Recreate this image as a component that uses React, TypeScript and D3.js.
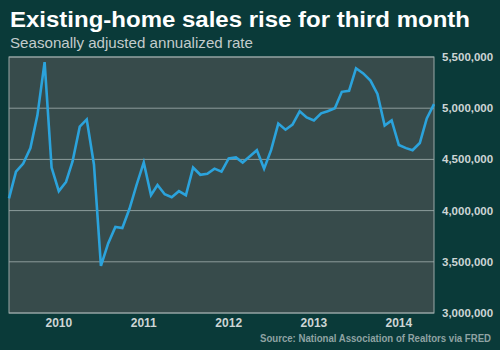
import React from 'react';
import * as d3 from 'd3';

// monthly existing-home sales, June 2009 - June 2014 (millions, SAAR)
const startMonth = new Date(2009, 5, 1);
const sales = [
  4.12, 4.38, 4.46, 4.61, 4.93, 5.45, 4.42, 4.19, 4.28, 4.48, 4.82, 4.89,
  4.45, 3.46, 3.68, 3.84, 3.83, 4.02, 4.25, 4.47, 4.15, 4.25, 4.16, 4.13,
  4.19, 4.15, 4.42, 4.35, 4.36, 4.41, 4.38, 4.51, 4.52, 4.47, 4.53, 4.59,
  4.41, 4.59, 4.85, 4.79, 4.84, 4.97, 4.91, 4.88, 4.95, 4.97, 5.0, 5.16,
  5.17, 5.39, 5.34, 5.27, 5.14, 4.83, 4.88, 4.64, 4.61, 4.59, 4.66, 4.9,
  5.04,
];
const yTicks = [3000000, 3500000, 4000000, 4500000, 5000000, 5500000];
const xYears = [2010, 2011, 2012, 2013, 2014];

const title = 'Existing-home sales rise for third month';
const subtitle = 'Seasonally adjusted annualized rate';
const source = 'Source: National Association of Realtors via FRED';

const W = 500;
const H = 350;
const plot = { left: 9, right: 434, top: 57, bottom: 313 };

const App = () => {
  const data = sales.map((v, i) => ({
    date: d3.timeMonth.offset(startMonth, i),
    value: v * 1e6,
  }));

  const x = d3.scaleTime()
    .domain([data[0].date, data[data.length - 1].date])
    .range([plot.left, plot.right]);

  const y = d3.scaleLinear()
    .domain([3000000, 5500000])
    .range([plot.bottom, plot.top]);

  const line = d3.line<{ date: Date; value: number }>()
    .x(d => x(d.date))
    .y(d => y(d.value));

  const fmt = d3.format(',');

  return (
    <svg
      width={W}
      height={H}
      style={{ position: 'absolute', left: 0, top: 0, fontFamily: 'Liberation Sans, Arial, sans-serif' }}
    >
      <rect x={0} y={0} width={W} height={H} fill="#0a3a39" />

      {/* Titel */}
      <text x={10} y={27} fill="#ffffff" fontSize={22} fontWeight="bold" textLength={460} lengthAdjust="spacingAndGlyphs">
        {title}
      </text>
      <text x={10} y={48} fill="#c3cccc" fontSize={15} textLength={243} lengthAdjust="spacingAndGlyphs">
        {subtitle}
      </text>

      {/* Plotbereich */}
      <rect
        x={plot.left}
        y={plot.top}
        width={plot.right - plot.left}
        height={plot.bottom - plot.top}
        fill="#374b4b"
      />

      {yTicks.map(t => (
        <line
          key={t}
          x1={plot.left}
          x2={plot.right}
          y1={y(t)}
          y2={y(t)}
          stroke="#8c9c9b"
          strokeWidth={1}
        />
      ))}

      <rect
        x={plot.left}
        y={plot.top}
        width={plot.right - plot.left}
        height={plot.bottom - plot.top}
        fill="none"
        stroke="#9aa8a8"
        strokeWidth={1}
      />

      <path d={line(data) ?? ''} fill="none" stroke="#2ba3dc" strokeWidth={2.6} strokeLinejoin="miter" />

      {/* Achsenbeschriftung */}
      {yTicks.map(t => (
        <text
          key={t}
          x={442}
          y={y(t)}
          dy="0.35em"
          fill="#cdd5d5"
          fontSize={11.5}
          fontWeight="bold"
        >
          {fmt(t)}
        </text>
      ))}

      {xYears.map(yr => (
        <text
          key={yr}
          x={x(new Date(yr, 0, 1))}
          y={327}
          textAnchor="middle"
          fill="#cdd5d5"
          fontSize={12}
          fontWeight="bold"
        >
          {yr}
        </text>
      ))}

      <text x={491} y={342} textAnchor="end" fill="#8fa3a3" fontSize={10} fontWeight="bold" textLength={231} lengthAdjust="spacingAndGlyphs">
        {source}
      </text>
    </svg>
  );
};

export default App;
